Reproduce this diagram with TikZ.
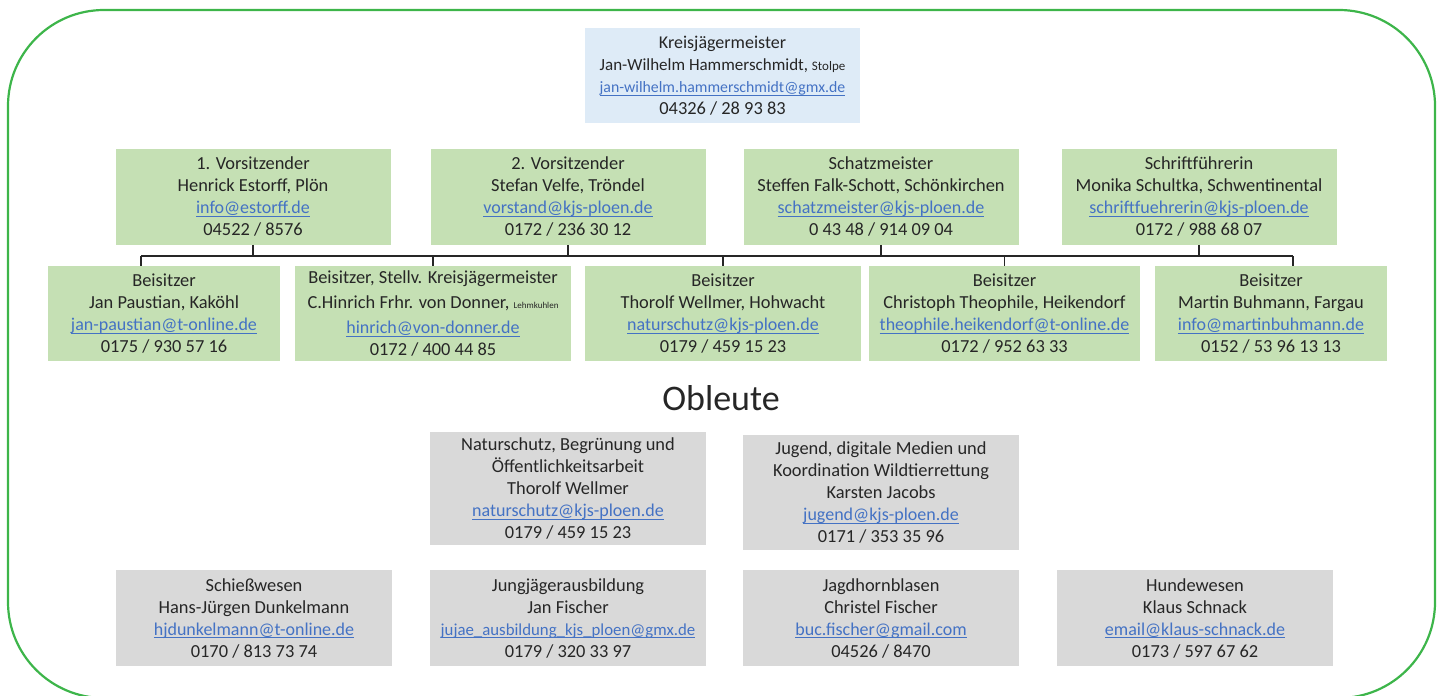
\documentclass[tikz,border=0pt]{standalone}
\usepackage{fontspec}
\setmainfont{Carlito}
\usepackage{tikz}
\usetikzlibrary{positioning}

\definecolor{boardgreen}{HTML}{C5E0B4}
\definecolor{headblue}{HTML}{DEEBF7}
\definecolor{oblgray}{HTML}{D9D9D9}
\definecolor{linkblue}{HTML}{4472C4}
\definecolor{framegreen}{HTML}{3DB54A}
\definecolor{inkgray}{HTML}{262626}

\newcommand\ulbase[1]{\underline{\smash{#1}}}
\newcommand\cardfont{\fontsize{9.2}{11}\selectfont}
\newcommand\emailtxt[1]{{\fontsize{9}{11}\selectfont\textcolor{linkblue}{\ulbase{#1}}}}

\begin{document}
\begin{tikzpicture}[x=0.5pt, y=-0.5pt]
  \useasboundingbox (0,0) rectangle (1443,695);

  % ---- outer frame ----------------------------------------------
  \draw[framegreen, line width=1.1pt, rounded corners=48pt]
    (8,10) rectangle (1435,698);

  % ---- box styles -----------------------------------------------
  \tikzstyle{card}=[inner sep=0pt, align=center, text=inkgray,
                    font=\cardfont, minimum height=47.5pt]
  \tikzstyle{head}=[card, fill=headblue, minimum width=137.5pt]
  \tikzstyle{board}=[card, fill=boardgreen, minimum width=137.5pt]
  \tikzstyle{duty}=[card, fill=oblgray, minimum width=138pt]

  % ---- Kreisjaegermeister ---------------------------------------
  \node[head] (kjm) at (722.5,75.5)
    {{\fontsize{9}{11}\selectfont Kreisjägermeister}\\
     {\fontsize{8.5}{11}\selectfont Jan-Wilhelm Hammerschmidt,
      {\fontsize{6.5}{8}\selectfont Stolpe}}\\
     {\fontsize{7.9}{11}\selectfont\textcolor{linkblue}{\ulbase{jan-wilhelm.hammerschmidt@gmx.de}}}\\
     04326 / 28 93 83};

  % ---- Vorstand -------------------------------------------------
  \node[board] (vors1) at (253,197)
    {1. Vorsitzender\\ Henrick Estorff, Plön\\
     \emailtxt{info@estorff.de}\\ 04522 / 8576};
  \node[board] (vors2) at (568,197)
    {2. Vorsitzender\\ Stefan Velfe, Tröndel\\
     \emailtxt{vorstand@kjs-ploen.de}\\ 0172 / 236 30 12};
  \node[board] (schatz) at (881,197)
    {Schatzmeister\\ Steffen Falk-Schott, Schönkirchen\\
     \emailtxt{schatzmeister@kjs-ploen.de}\\ 0 43 48 / 914 09 04};
  \node[board] (schrift) at (1199,197)
    {Schriftführerin\\ Monika Schultka, Schwentinental\\
     \emailtxt{schriftfuehrerin@kjs-ploen.de}\\ 0172 / 988 68 07};

  % ---- Beisitzer ------------------------------------------------
  \node[board, minimum width=116pt] (beis1) at (164,313.5)
    {Beisitzer\\ Jan Paustian, Kaköhl\\
     \emailtxt{jan-paustian@t-online.de}\\ 0175 / 930 57 16};
  \node[board, minimum width=138pt] (beis2) at (433,313.5)
    {Beisitzer, Stellv. Kreisjägermeister\\[1.5pt]
     C.Hinrich Frhr. von Donner, {\fontsize{4.5}{5}\selectfont Lehmkuhlen}\\[1.5pt]
     \emailtxt{hinrich@von-donner.de}\\ 0172 / 400 44 85};
  \node[board, minimum width=138pt] (beis3) at (723,313.5)
    {Beisitzer\\ Thorolf Wellmer, Hohwacht\\
     \emailtxt{naturschutz@kjs-ploen.de}\\ 0179 / 459 15 23};
  \node[board, minimum width=135.5pt] (beis4) at (1004.5,313.5)
    {Beisitzer\\ Christoph Theophile, Heikendorf\\
     \emailtxt{theophile.heikendorf@t-online.de}\\ 0172 / 952 63 33};
  \node[board, minimum width=116pt] (beis5) at (1271,313.5)
    {Beisitzer\\ Martin Buhmann, Fargau\\
     \emailtxt{info@martinbuhmann.de}\\ 0152 / 53 96 13 13};

  % ---- connectors -----------------------------------------------
  \coordinate (busL) at (141,256);
  \coordinate (busR) at (1293,256);
  \draw[black!85, line width=0.7pt] (busL) -- (busR);
  \foreach \n in {vors1,vors2,schatz,schrift}
    \draw[black!85, line width=0.7pt] (\n.south) -- (\n.south |- busL);
  \foreach \n in {beis2,beis3,beis4}
    \draw[black!85, line width=0.7pt] (\n.north) -- (\n.north |- busL);
  \draw[black!85, line width=0.7pt] (busL) -- (busL |- beis1.north);
  \draw[black!85, line width=0.7pt] (busR) -- (busR |- beis5.north);

  % ---- Obleute --------------------------------------------------
  \node[text=inkgray, font=\fontsize{18}{20}\selectfont] (obl) at (721,398) {Obleute};

  \node[duty, minimum height=56.5pt] (natur) at (568,488.5)
    {Naturschutz, Begrünung und\\ Öffentlichkeitsarbeit\\ Thorolf Wellmer\\
     \emailtxt{naturschutz@kjs-ploen.de}\\ 0179 / 459 15 23};
  \node[duty, minimum height=57.5pt] (jugend) at (881,492.5)
    {Jugend, digitale Medien und\\ Koordination Wildtierrettung\\ Karsten Jacobs\\
     \emailtxt{jugend@kjs-ploen.de}\\ 0171 / 353 35 96};

  \node[duty, minimum height=48pt] (schiess) at (254,618)
    {Schießwesen\\ Hans-Jürgen Dunkelmann\\
     \emailtxt{hjdunkelmann@t-online.de}\\ 0170 / 813 73 74};
  \node[duty, minimum height=48pt] (jungj) at (568,618)
    {Jungjägerausbildung\\ Jan Fischer\\
     {\fontsize{8.4}{11}\selectfont\textcolor{linkblue}{\ulbase{jujae\_ausbildung\_kjs\_ploen@gmx.de}}}\\
     0179 / 320 33 97};
  \node[duty, minimum height=48pt] (horn) at (881,618)
    {Jagdhornblasen\\ Christel Fischer\\
     \emailtxt{buc.fischer@gmail.com}\\ 04526 / 8470};
  \node[duty, minimum height=48pt] (hunde) at (1195,618)
    {Hundewesen\\ Klaus Schnack\\
     \emailtxt{email@klaus-schnack.de}\\ 0173 / 597 67 62};

\end{tikzpicture}
\end{document}
